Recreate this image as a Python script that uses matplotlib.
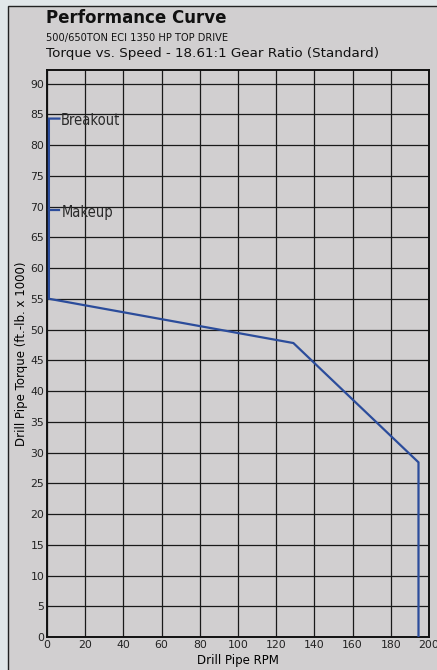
import matplotlib.pyplot as plt
from matplotlib.patches import Rectangle

# curve data (rpm, torque x1000)
rpm = [6.5, 1, 1, 129, 194.5, 194.5]
torque = [84.3, 84.3, 55, 47.8, 28.4, 0]
makeup_rpm = [1, 6.5]
makeup_torque = [69.4, 69.4]
xticks = list(range(0, 201, 20))
yticks = list(range(0, 91, 5))

W, H = 437, 670
fig = plt.figure(figsize=(W/100, H/100), dpi=100)
fig.patch.set_facecolor('#e1e7e9')

# panel
fig.patches.append(Rectangle((8/W, -0.01), 1, 1.01-6/H, transform=fig.transFigure,
                             facecolor='#d1cfd0', edgecolor='#222222', lw=1.0, zorder=-5))

ax = fig.add_axes([47/W, 1-637/H, (429-47)/W, (637-70)/H])
ax.set_facecolor('#d1cfd0')
ax.plot(rpm, torque, color='#2b4c9b', lw=1.6, solid_joinstyle='miter', zorder=3)
ax.plot(makeup_rpm, makeup_torque, color='#2b4c9b', lw=1.6, zorder=3)
ax.text(7, 84.0, 'Breakout', stretch='condensed', fontsize=10.5,
        va='center', ha='left', color='#2a2a2a')
ax.text(7.5, 69.1, 'Makeup', stretch='condensed', fontsize=10.5,
        va='center', ha='left', color='#2a2a2a')

ax.set_xlim(0, 200)
ax.set_ylim(0, 92.2)
ax.set_xticks(xticks)
ax.set_yticks(yticks)
ax.grid(True, color='#1a1a1a', lw=0.9)
ax.tick_params(length=0, labelsize=7.8, pad=2, colors='#222222')
for s in ax.spines.values():
    s.set_linewidth(1.4)
    s.set_color('#111111')
ax.set_xlabel('Drill Pipe RPM', fontsize=8.5, labelpad=3)
ax.set_ylabel('Drill Pipe Torque (ft.-lb. x 1000)', fontsize=8.5, labelpad=2)

fig.text(46/W, 1-18/H, 'Performance Curve', fontsize=12, fontweight='bold',
         va='center', ha='left', color='#111111')
fig.text(46/W, 1-38/H, '500/650TON ECI 1350 HP TOP DRIVE', fontsize=7.1,
         va='center', ha='left', color='#111111')
fig.text(46/W, 1-53/H, 'Torque vs. Speed - 18.61:1 Gear Ratio (Standard)', fontsize=9.7,
         va='center', ha='left', color='#111111')

fig.savefig('out.png', dpi=100, facecolor=fig.get_facecolor())
